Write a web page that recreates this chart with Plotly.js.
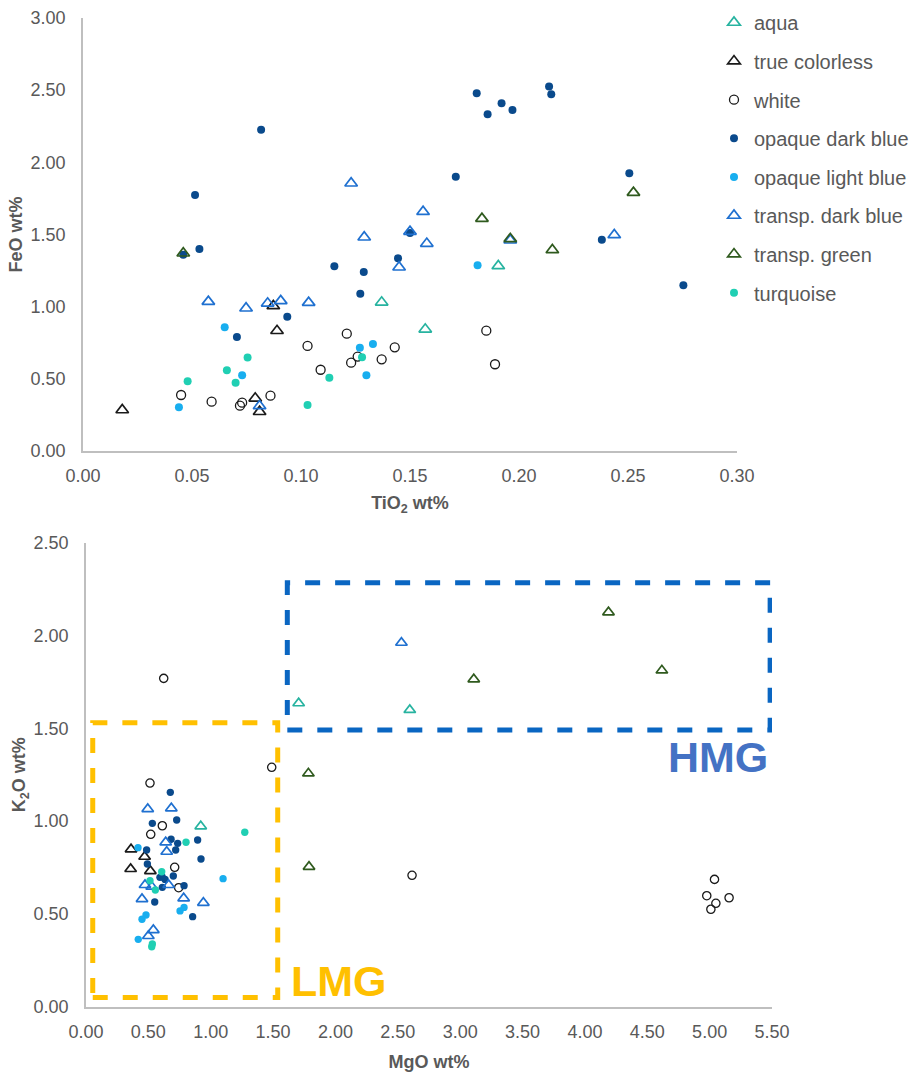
<!DOCTYPE html>
<html>
<head>
<meta charset="utf-8">
<script src="https://cdn.plot.ly/plotly-3.0.1.min.js"></script>
<style>html,body{margin:0;padding:0;background:#fff;}#chart{width:919px;height:1075px;}</style>
</head>
<body>
<div id="chart"></div>
<script>
// ---------- Series names ----------
const seriesNames = ["aqua", "true colorless", "white", "opaque dark blue", "opaque light blue", "transp. dark blue", "transp. green", "turquoise"];

// ---------- Top chart: TiO2 vs FeO (wt%) ----------
const aquaTi = [0.137, 0.157, 0.1905];
const aquaFe = [1.03, 0.843, 1.282];
const colorlessTi = [0.018, 0.079, 0.081, 0.0873, 0.089];
const colorlessFe = [0.284, 0.365, 0.272, 1.005, 0.833];
const whiteTi = [0.045, 0.059, 0.072, 0.073, 0.086, 0.103, 0.109, 0.121, 0.123, 0.126, 0.137, 0.143, 0.185, 0.189];
const whiteFe = [0.388, 0.342, 0.314, 0.335, 0.383, 0.728, 0.563, 0.813, 0.612, 0.654, 0.635, 0.718, 0.834, 0.601];
const opDarkTi = [0.046, 0.0514, 0.0534, 0.0706, 0.0817, 0.0937, 0.1153, 0.1272, 0.1288, 0.1445, 0.150, 0.171, 0.1806, 0.1856, 0.192, 0.197, 0.2138, 0.2148, 0.238, 0.2506, 0.2754];
const opDarkFe = [1.36, 1.774, 1.40, 0.79, 2.225, 0.93, 1.28, 1.09, 1.24, 1.335, 1.51, 1.90, 2.479, 2.333, 2.41, 2.363, 2.525, 2.472, 1.464, 1.924, 1.148];
const opLightTi = [0.044, 0.065, 0.073, 0.127, 0.130, 0.133, 0.181];
const opLightFe = [0.303, 0.857, 0.524, 0.716, 0.524, 0.742, 1.287];
const trDarkTi = [0.0575, 0.0748, 0.081, 0.0847, 0.0907, 0.1035, 0.123, 0.129, 0.145, 0.150, 0.156, 0.1577, 0.196, 0.2437];
const trDarkFe = [1.035, 0.989, 0.312, 1.023, 1.04, 1.028, 1.855, 1.481, 1.273, 1.52, 1.658, 1.437, 1.46, 1.497];
const trGreenTi = [0.046, 0.183, 0.196, 0.2153, 0.2525];
const trGreenFe = [1.37, 1.61, 1.47, 1.393, 1.79];
const turqTi = [0.048, 0.066, 0.070, 0.0755, 0.103, 0.113, 0.128];
const turqFe = [0.483, 0.559, 0.473, 0.647, 0.319, 0.508, 0.649];

// ---------- Bottom chart: MgO vs K2O (wt%) ----------
const aquaMg = [0.92, 1.705, 2.596];
const aquaK = [0.972, 1.635, 1.599];
const colorlessMg = [0.358, 0.361, 0.47, 0.516];
const colorlessK = [0.742, 0.848, 0.808, 0.731];
const whiteMg = [0.513, 0.519, 0.612, 0.623, 0.711, 0.743, 1.489, 2.614, 4.977, 5.01, 5.039, 5.05, 5.156];
const whiteK = [1.205, 0.929, 0.975, 1.769, 0.751, 0.641, 1.29, 0.708, 0.598, 0.525, 0.686, 0.557, 0.587];
const opDarkMg = [0.676, 0.727, 0.532, 0.682, 0.735, 0.719, 0.895, 0.486, 0.492, 0.922, 0.593, 0.634, 0.700, 0.612, 0.786, 0.551, 0.855, 0.61];
const opDarkK = [1.155, 1.006, 0.988, 0.902, 0.880, 0.844, 0.898, 0.844, 0.769, 0.796, 0.697, 0.686, 0.704, 0.643, 0.652, 0.564, 0.485, 0.70];
const opLightMg = [0.417, 1.099, 0.786, 0.754, 0.481, 0.449, 0.419];
const opLightK = [0.857, 0.69, 0.535, 0.516, 0.494, 0.471, 0.363];
const trDarkMg = [0.495, 0.684, 0.639, 0.647, 0.473, 0.527, 0.663, 0.449, 0.783, 0.941, 0.54, 0.50, 2.529];
const trDarkK = [1.065, 1.069, 0.886, 0.835, 0.656, 0.647, 0.656, 0.58, 0.584, 0.56, 0.413, 0.381, 1.961];
const trGreenMg = [1.783, 1.788, 3.109, 4.189, 4.617];
const trGreenK = [1.257, 0.754, 1.764, 2.125, 1.812];
const turqMg = [1.273, 0.802, 0.607, 0.513, 0.556, 0.532, 0.527];
const turqK = [0.94, 0.886, 0.727, 0.679, 0.629, 0.338, 0.323];

// ---------- Ticks ----------
const tiTicks = [0, 0.05, 0.10, 0.15, 0.20, 0.25, 0.30];
const feTicks = [0, 0.5, 1.0, 1.5, 2.0, 2.5, 3.0];
const mgTicks = [0, 0.5, 1.0, 1.5, 2.0, 2.5, 3.0, 3.5, 4.0, 4.5, 5.0, 5.5];
const kTicks = [0, 0.5, 1.0, 1.5, 2.0, 2.5];

// ---------- Group boxes (MgO range, K2O range) ----------
const lmgBoxMg = [0.054, 1.537];
const lmgBoxK = [0.05, 1.53];
const hmgBoxMg = [1.614, 5.485];
const hmgBoxK = [1.491, 2.284];

// ---------- Styles ----------
const styles = [
  {symbol: "triangle-up-open", size: 11, color: "#27b3a0", lw: 1.7},
  {symbol: "triangle-up-open", size: 11, color: "#1a1a1a", lw: 1.7},
  {symbol: "circle-open", size: 9, color: "#1a1a1a", lw: 1.3},
  {symbol: "circle", size: 8, color: "#0a4a8c", lw: 0},
  {symbol: "circle", size: 8, color: "#18aeef", lw: 0},
  {symbol: "triangle-up-open", size: 11, color: "#1f70d0", lw: 1.7},
  {symbol: "triangle-up-open", size: 11, color: "#2f5a1e", lw: 1.7},
  {symbol: "circle", size: 8, color: "#20cfb3", lw: 0}
];

const topX = [aquaTi, colorlessTi, whiteTi, opDarkTi, opLightTi, trDarkTi, trGreenTi, turqTi];
const topY = [aquaFe, colorlessFe, whiteFe, opDarkFe, opLightFe, trDarkFe, trGreenFe, turqFe];
const botX = [aquaMg, colorlessMg, whiteMg, opDarkMg, opLightMg, trDarkMg, trGreenMg, turqMg];
const botY = [aquaK, colorlessK, whiteK, opDarkK, opLightK, trDarkK, trGreenK, turqK];

function mk(s, scale) {
  const m = {symbol: s.symbol, size: s.size * scale, color: s.color};
  if (s.lw > 0) m.line = {color: s.color, width: s.lw};
  return m;
}

const traces = [];
seriesNames.forEach((name, i) => {
  traces.push({
    type: "scatter", mode: "markers", name: name,
    x: topX[i], y: topY[i], xaxis: "x", yaxis: "y",
    marker: mk(styles[i], 1), legendgroup: "g" + i, showlegend: true,
    cliponaxis: false, hoverinfo: "x+y+name"
  });
});
seriesNames.forEach((name, i) => {
  traces.push({
    type: "scatter", mode: "markers", name: name,
    x: botX[i], y: botY[i], xaxis: "x2", yaxis: "y2",
    marker: mk(styles[i], 0.92), legendgroup: "g" + i, showlegend: false,
    cliponaxis: false, hoverinfo: "x+y+name"
  });
});

const FONT = "'Liberation Sans', Arial, sans-serif";
const tickFont = {family: FONT, size: 18, color: "#595959"};
const titleFont = {family: FONT, size: 18, color: "#595959", weight: 700};

function axisBase(extra) {
  return Object.assign({
    showline: true, linecolor: "#bfbfbf", linewidth: 1.5,
    showgrid: false, zeroline: false, ticks: "",
    tickfont: tickFont, tickformat: ".2f", autorange: false, fixedrange: true
  }, extra);
}

const W = 919, H = 1075;
const layout = {
  width: W, height: H,
  margin: {l: 0, r: 0, t: 0, b: 0, autoexpand: false},
  paper_bgcolor: "#ffffff", plot_bgcolor: "#ffffff",
  font: {family: FONT, color: "#595959"},
  showlegend: true,
  legend: {
    x: 714 / W, y: 1 - 3 / H, xanchor: "left", yanchor: "top",
    font: {family: FONT, size: 20, color: "#595959"},
    tracegroupgap: 9.6, bgcolor: "rgba(0,0,0,0)", itemclick: false, itemdoubleclick: false
  },
  xaxis: axisBase({
    domain: [83 / W, 737 / W], range: [0, 0.30], anchor: "y",
    tickvals: tiTicks, ticklabelstandoff: 8,
    title: {text: "TiO<sub>2</sub> wt%", font: titleFont, standoff: 11}
  }),
  yaxis: axisBase({
    domain: [1 - 451 / H, 1 - 18 / H], range: [0, 3.0], anchor: "x",
    tickvals: feTicks, ticklabelstandoff: 12,
    title: {text: "FeO wt%", font: titleFont, standoff: 3}
  }),
  xaxis2: axisBase({
    domain: [86 / W, 772 / W], range: [0, 5.5], anchor: "y2",
    tickvals: mgTicks, ticklabelstandoff: 8,
    title: {text: "MgO wt%", font: titleFont, standoff: 14}
  }),
  yaxis2: axisBase({
    domain: [1 - 1006.7 / H, 1 - 542.7 / H], range: [0, 2.5], anchor: "x2",
    tickvals: kTicks, ticklabelstandoff: 12,
    title: {text: "K<sub>2</sub>O wt%", font: titleFont, standoff: 3}
  }),
  shapes: [
    {type: "rect", xref: "x2", yref: "y2", x0: lmgBoxMg[0], x1: lmgBoxMg[1], y0: lmgBoxK[0], y1: lmgBoxK[1],
     line: {color: "#ffc000", width: 5, dash: "dash"}, fillcolor: "rgba(0,0,0,0)", layer: "below"},
    {type: "rect", xref: "x2", yref: "y2", x0: hmgBoxMg[0], x1: hmgBoxMg[1], y0: hmgBoxK[0], y1: hmgBoxK[1],
     line: {color: "#0a66c2", width: 5, dash: "dash"}, fillcolor: "rgba(0,0,0,0)", layer: "below"}
  ],
  annotations: [
    {xref: "x2", yref: "y2", x: hmgBoxMg[1], y: hmgBoxK[0], xanchor: "right", yanchor: "top",
     text: "<b>HMG</b>", showarrow: false, xshift: 0, yshift: -1,
     font: {family: FONT, size: 43, color: "#4472c4"}},
    {xref: "x2", yref: "y2", x: lmgBoxMg[1], y: lmgBoxK[0], xanchor: "left", yanchor: "bottom",
     text: "<b>LMG</b>", showarrow: false, xshift: 11, yshift: -10,
     font: {family: FONT, size: 43, color: "#ffc000"}}
  ]
};

Plotly.newPlot("chart", traces, layout, {displayModeBar: false});
</script>
</body>
</html>
